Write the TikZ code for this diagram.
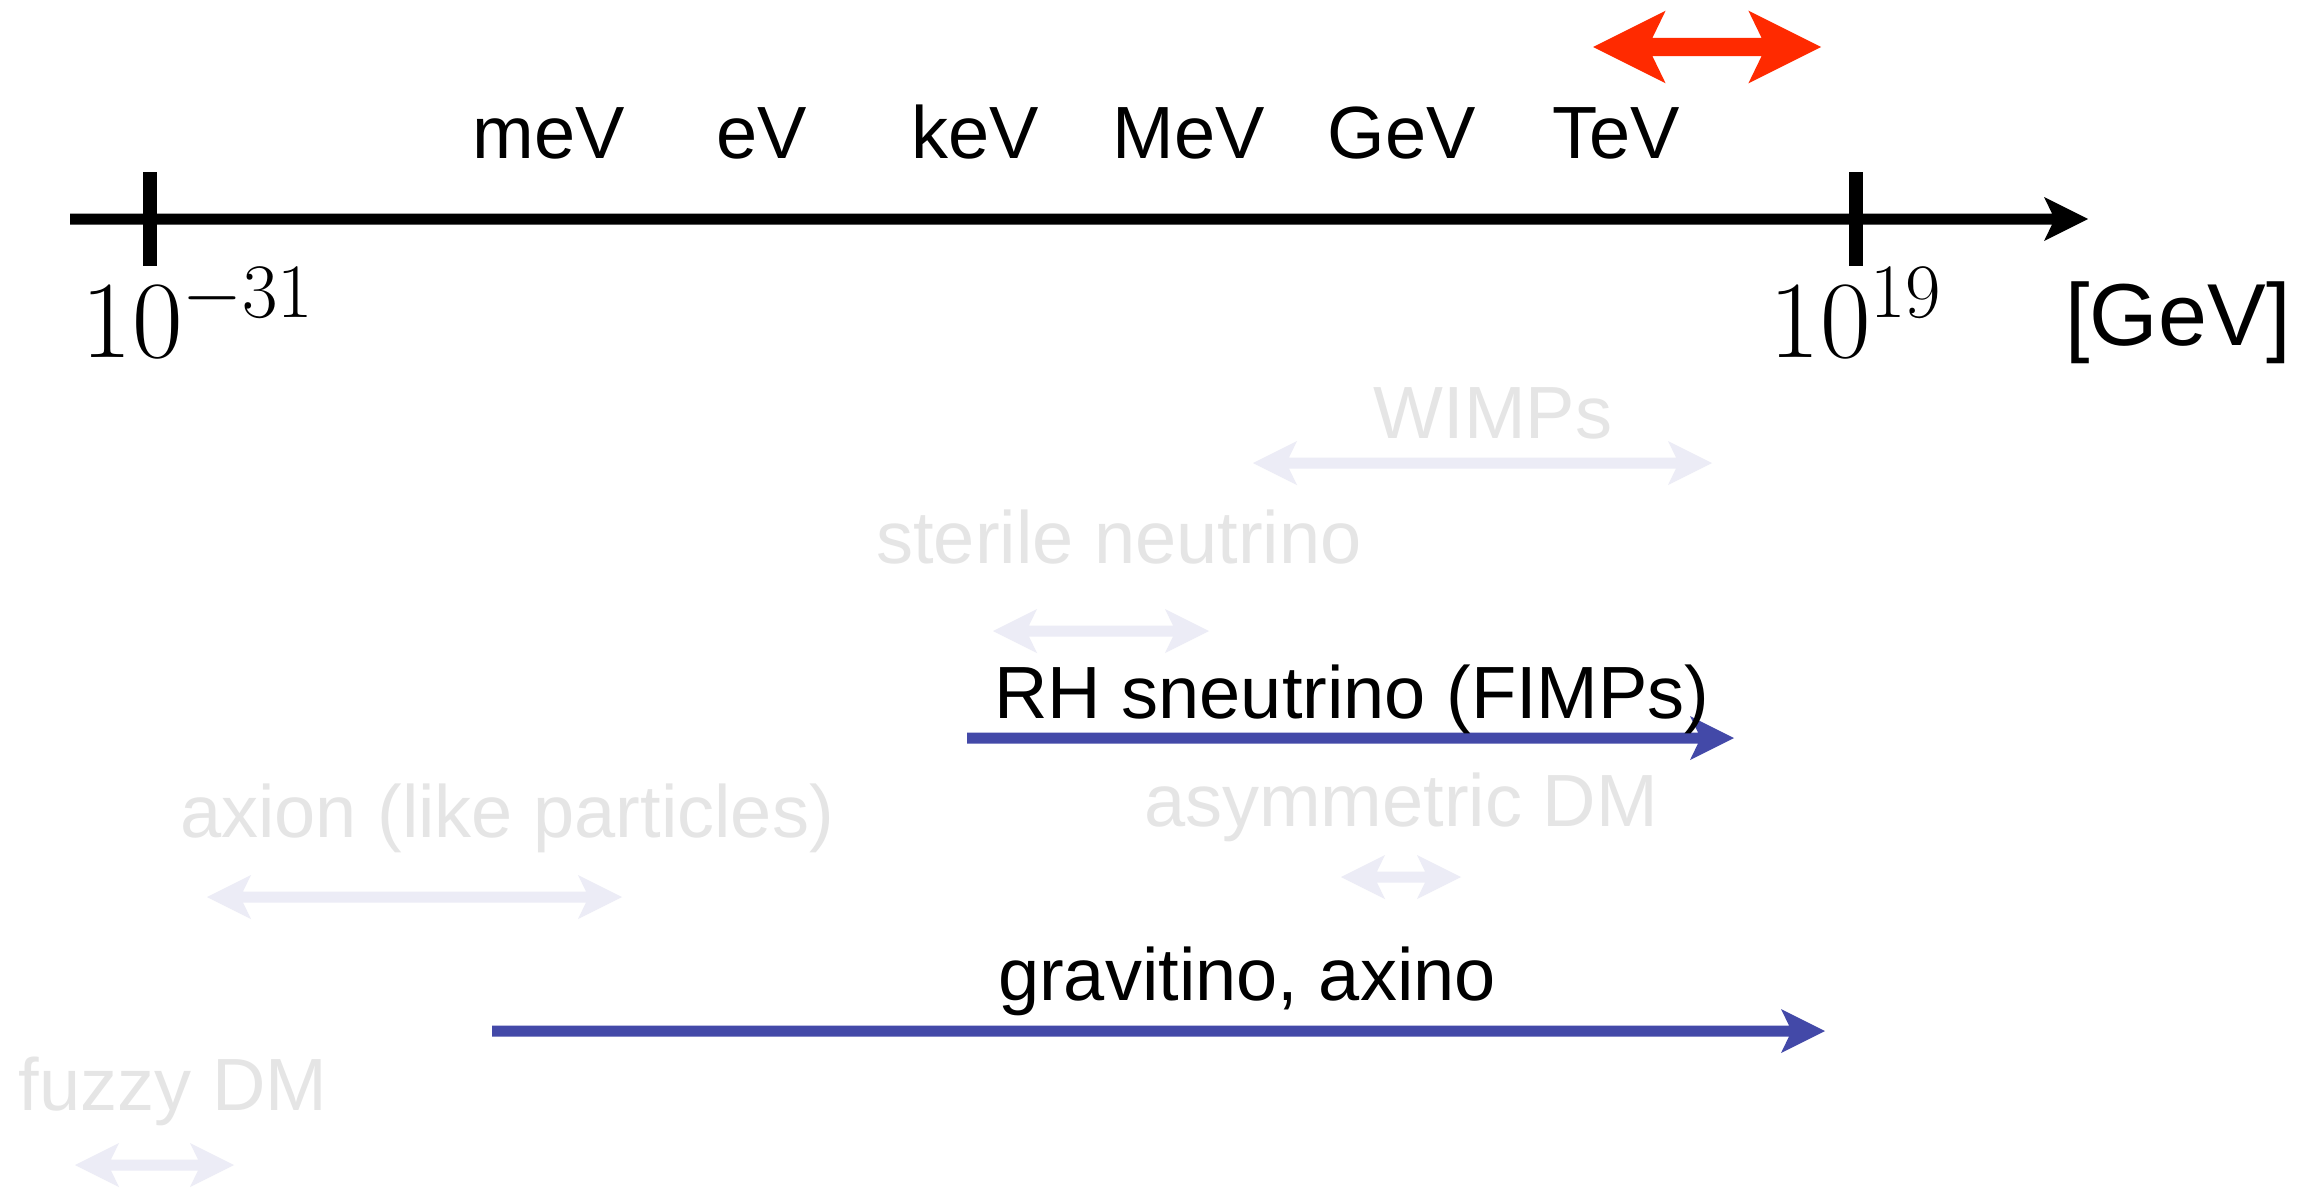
\RequirePackage{fix-cm}
\documentclass[tikz,border=0pt]{standalone}
\usepackage{fontspec}
\usetikzlibrary{calc}
\newfontfamily\arialfont{Liberation Sans}

\definecolor{rangeblue}{RGB}{67,73,168}
\definecolor{tevred}{RGB}{255,42,0}
\definecolor{fadearrow}{RGB}{236,236,246}
\definecolor{fadetext}{RGB}{229,229,229}

% double-headed range arrow: #1 fill style, #2 left tip, #3 right tip, #4 size factor
\newcommand\rangeboth[4]{%
  \fill[#1] (#2) -- ($(#2)+(44*#4,-22*#4)$) -- ($(#2)+(36*#4,-5.5*#4)$)
    -- ($(#3)+(-36*#4,-5.5*#4)$) -- ($(#3)+(-44*#4,-22*#4)$) -- (#3)
    -- ($(#3)+(-44*#4,22*#4)$) -- ($(#3)+(-36*#4,5.5*#4)$)
    -- ($(#2)+(36*#4,5.5*#4)$) -- ($(#2)+(44*#4,22*#4)$) -- cycle;}
% single-headed arrow with a square tail: #1 fill style, #2 tail, #3 tip
\newcommand\rangeone[3]{%
  \fill[#1] ($(#2)+(0,-5.5)$) -- ($(#3)+(-36,-5.5)$) -- ($(#3)+(-44,-22)$) -- (#3)
    -- ($(#3)+(-44,22)$) -- ($(#3)+(-36,5.5)$) -- ($(#2)+(0,5.5)$) -- cycle;}

\tikzset{
  label/.style={font=\arialfont\fontsize{37}{44}\selectfont, inner sep=0pt, anchor=base},
  faint/.style={label, text=fadetext},
  strong/.style={label, text=black},
  unitbig/.style={font=\arialfont\fontsize{44}{52}\selectfont, inner sep=0pt, anchor=base},
  power/.style={font=\fontsize{55}{64}\selectfont, inner sep=0pt, anchor=base},
  tickmark/.style={line width=6.7pt, draw=black},
}

\begin{document}
\begin{tikzpicture}[x=0.5pt, y={(0pt,-0.5pt)}]
  \fill[white] (0,0) rectangle (2320,1190);
  \useasboundingbox (0,0) rectangle (2320,1190);

  % energy axis
  \coordinate (axL) at (70,219);
  \coordinate (axR) at (2088,219);
  \rangeone{black}{axL}{axR}
  \coordinate (tickA1) at (150,172);
  \coordinate (tickA2) at (150,266);
  \coordinate (tickB1) at (1856,172);
  \coordinate (tickB2) at (1856,266);
  \draw[tickmark] (tickA1) -- (tickA2);
  \draw[tickmark] (tickB1) -- (tickB2);

  \node[power] (lo) at (198,357) {$10^{-31}$};
  \node[power] (hi) at (1856,357) {$10^{19}$};
  \node[unitbig] (gevunit) at (2178,345) {[GeV]};

  % unit scale
  \node[strong] (mev) at (549,158) {meV};
  \node[strong] (ev)  at (762,158) {eV};
  \node[strong] (kev) at (975,158) {keV};
  \node[strong] (Mev) at (1189,158) {MeV};
  \node[strong] (Gev) at (1402,158) {GeV};
  \node[strong] (Tev) at (1616,158) {TeV};

  % TeV range
  \coordinate (redL) at (1593,47);
  \coordinate (redR) at (1821,47);
  \rangeboth{tevred}{redL}{redR}{1.65}

  % candidates
  \node[faint] (wimp) at (1493,438) {WIMPs};
  \coordinate (wimpL) at (1253,463);
  \coordinate (wimpR) at (1712,463);
  \rangeboth{fadearrow}{wimpL}{wimpR}{1}

  \node[faint] (sterile) at (1119,563) {sterile neutrino};
  \coordinate (sterL) at (993,631);
  \coordinate (sterR) at (1209,631);
  \rangeboth{fadearrow}{sterL}{sterR}{1}

  \coordinate (snuL) at (967,738);
  \coordinate (snuR) at (1734,738);
  \rangeone{rangeblue}{snuL}{snuR}
  \node[strong] (snu) at (1352,718) {RH sneutrino (FIMPs)};

  \node[faint] (asym) at (1401,826) {asymmetric DM};
  \coordinate (asymL) at (1341,877);
  \coordinate (asymR) at (1461,877);
  \rangeboth{fadearrow}{asymL}{asymR}{1}

  \node[faint] (axion) at (507,837) {axion (like particles)};
  \coordinate (axionL) at (207,897);
  \coordinate (axionR) at (622,897);
  \rangeboth{fadearrow}{axionL}{axionR}{1}

  \node[strong] (grav) at (1247,1000) {gravitino, axino};
  \coordinate (gravL) at (492,1031);
  \coordinate (gravR) at (1825,1031);
  \rangeone{rangeblue}{gravL}{gravR}

  \node[faint] (fuzzy) at (173,1110) {fuzzy DM};
  \coordinate (fuzzL) at (75,1165);
  \coordinate (fuzzR) at (234,1165);
  \rangeboth{fadearrow}{fuzzL}{fuzzR}{1}
\end{tikzpicture}
\end{document}
